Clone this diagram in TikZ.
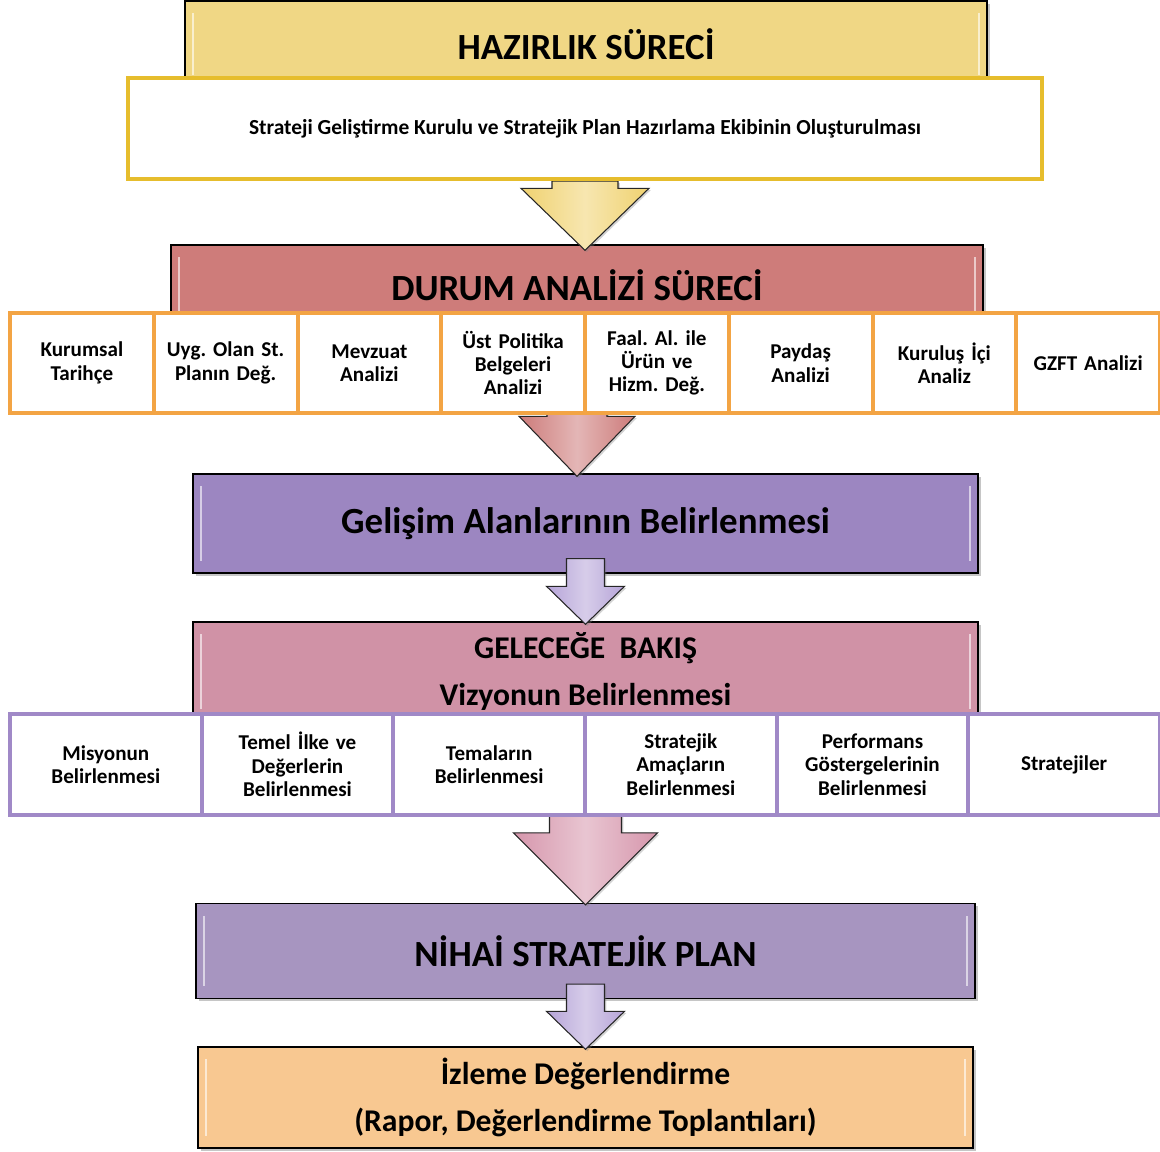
\documentclass[tikz,border=0pt]{standalone}
\usepackage{fontspec}
\setmainfont{Carlito}
\usepackage{tikz}
\usetikzlibrary{positioning}
\usetikzlibrary{calc,shadows}
\frenchspacing

\definecolor{hazirsari}{HTML}{F0D785}
\definecolor{altinkenar}{HTML}{E6BD2D}
\definecolor{durumkirmizi}{HTML}{CE7C7A}
\definecolor{turuncukenar}{HTML}{F3A444}
\definecolor{gelisimmor}{HTML}{9C86C1}
\definecolor{gelecekpembe}{HTML}{D092A6}
\definecolor{morkenar}{HTML}{A089C7}
\definecolor{nihaimor}{HTML}{A795C0}
\definecolor{izlemeturuncu}{HTML}{F8C891}
\definecolor{oksari}{HTML}{F0D270}
\definecolor{okkirmizi}{HTML}{CD7B7A}
\definecolor{okmor}{HTML}{B6A4D8}
\definecolor{okpembe}{HTML}{D696AC}

\pgfdeclarelayer{bantlar}
\pgfdeclarelayer{oklar}
\pgfsetlayers{bantlar,oklar,main}

\tikzset{
  bant/.style={draw=black, line width=0.8pt, inner sep=0pt, align=center,
    drop shadow={shadow xshift=1.6pt, shadow yshift=-1.6pt, opacity=0.45},
    path picture={
      \draw[white, opacity=0.6, line width=1.5pt]
        ([xshift=4.5pt,yshift=-7pt]path picture bounding box.north west) --
        ([xshift=4.5pt,yshift=7pt]path picture bounding box.south west);
      \draw[white, opacity=0.6, line width=1.5pt]
        ([xshift=-4.5pt,yshift=-7pt]path picture bounding box.north east) --
        ([xshift=-4.5pt,yshift=7pt]path picture bounding box.south east);
    }},
  buyukyazi/.style={font=\fontsize{21}{25}\selectfont\bfseries},
  ikisatir/.style={font=\fontsize{18}{26.6}\selectfont\bfseries},
  kutu/.style={draw=turuncukenar, fill=white, line width=0.08cm,
    minimum width=2.875cm, minimum height=2cm, inner sep=1pt, outer sep=0pt,
    text width=2.7cm, align=center, font=\fontsize{12}{13.3}\selectfont\bfseries},
  morkutu/.style={kutu, draw=morkenar, minimum width=3.8333cm,
    minimum height=2.02cm, text width=3.6cm},
  fatarrow/.style={draw=black!85, line width=0.6pt,
    drop shadow={shadow xshift=1pt, shadow yshift=-1pt, opacity=0.35}}
}

% colour, from, to, shaft half width, head half width, head length
\newcommand{\bigarrow}[6]{%
  \path[fatarrow, left color=#1, right color=#1, middle color=#1!55!white]
    let \p1=(#2), \p2=(#3) in
    (\x1-#4,\y1) -- (\x1+#4,\y1) -- (\x1+#4,\y2+#6) -- (\x1+#5,\y2+#6)
    -- (\x1,\y2) -- (\x1-#5,\y2+#6) -- (\x1-#4,\y2+#6) -- cycle;}

\begin{document}
\begin{tikzpicture}
  \useasboundingbox (0,0) rectangle (23.2,-23.02);

  %Banners
  \begin{pgfonlayer}{bantlar}
    \node[bant, buyukyazi, fill=hazirsari, minimum width=16.04cm, minimum height=1.72cm]
      (hazir) at (11.72,-0.88) {HAZIRLIK SÜRECİ};
    \node[bant, buyukyazi, fill=durumkirmizi, minimum width=16.24cm, minimum height=1.6cm]
      (durum) at (11.54,-5.7) {DURUM ANALİZİ SÜRECİ};
    \node[bant, buyukyazi, fill=gelisimmor, minimum width=15.7cm, minimum height=1.98cm]
      (gelisim) at (11.71,-10.47) {Gelişim Alanlarının Belirlenmesi};
    \node[bant, ikisatir, fill=gelecekpembe, minimum width=15.7cm, minimum height=1.98cm]
      (gelecek) at (11.71,-13.43) {GELECEĞE~~BAKIŞ\\Vizyonun Belirlenmesi};
    \node[bant, buyukyazi, fill=nihaimor, minimum width=15.58cm, minimum height=1.9cm]
      (nihai) at (11.71,-19.02) {NİHAİ STRATEJİK PLAN};
    \node[bant, ikisatir, fill=izlemeturuncu, minimum width=15.5cm, minimum height=2.02cm]
      (izleme) at (11.71,-21.95) {İzleme Değerlendirme\\(Rapor, Değerlendirme Toplantıları)};
  \end{pgfonlayer}

  %Boxes
  \node[draw=altinkenar, fill=white, line width=0.08cm, minimum width=18.28cm,
    minimum height=2.02cm, font=\fontsize{12.2}{14}\selectfont\bfseries]
    (ekip) at (11.70,-2.57) {Strateji Geliştirme Kurulu ve Stratejik Plan Hazırlama Ekibinin Oluşturulması};

  \node[kutu] (k1) at (1.6375,-7.26) {Kurumsal\\Tarihçe};
  \node[kutu, right=0pt of k1] (k2) {Uyg. Olan St.\\Planın Değ.};
  \node[kutu, right=0pt of k2] (k3) {Mevzuat\\Analizi};
  \node[kutu, right=0pt of k3] (k4) {Üst Politika\\Belgeleri\\Analizi};
  \node[kutu, right=0pt of k4] (k5) {Faal. Al. ile\\Ürün ve\\Hizm. Değ.};
  \node[kutu, right=0pt of k5] (k6) {Paydaş\\Analizi};
  \node[kutu, right=0pt of k6] (k7) {Kuruluş İçi\\Analiz};
  \node[kutu, right=0pt of k7] (k8) {GZFT Analizi};

  \node[morkutu] (m1) at (2.1167,-15.29) {Misyonun\\Belirlenmesi};
  \node[morkutu, right=0pt of m1] (m2) {Temel İlke ve\\Değerlerin\\Belirlenmesi};
  \node[morkutu, right=0pt of m2] (m3) {Temaların\\Belirlenmesi};
  \node[morkutu, right=0pt of m3] (m4) {Stratejik\\Amaçların\\Belirlenmesi};
  \node[morkutu, right=0pt of m4] (m5) {Performans\\Göstergelerinin\\Belirlenmesi};
  \node[morkutu, right=0pt of m5] (m6) {Stratejiler};

  %Arrows
  \begin{pgfonlayer}{oklar}
    \bigarrow{oksari}{ekip.south}{$(durum.north)+(0,-0.12)$}{0.66cm}{1.28cm}{1.24cm}
    \bigarrow{okkirmizi}{durum |- k1.south}{$(gelisim.north)+(0,-0.06)$}{0.6cm}{1.16cm}{1.2cm}
    \bigarrow{okmor}{$(gelisim.south)+(0,0.3)$}{$(gelecek.north)+(0,-0.06)$}{0.38cm}{0.78cm}{0.76cm}
    \bigarrow{okpembe}{gelecek |- m1.south}{$(nihai.north)+(0,-0.04)$}{0.72cm}{1.44cm}{1.44cm}
    \bigarrow{okmor}{$(nihai.south)+(0,0.3)$}{$(izleme.north)+(0,-0.06)$}{0.38cm}{0.78cm}{0.76cm}
  \end{pgfonlayer}

\end{tikzpicture}
\end{document}
